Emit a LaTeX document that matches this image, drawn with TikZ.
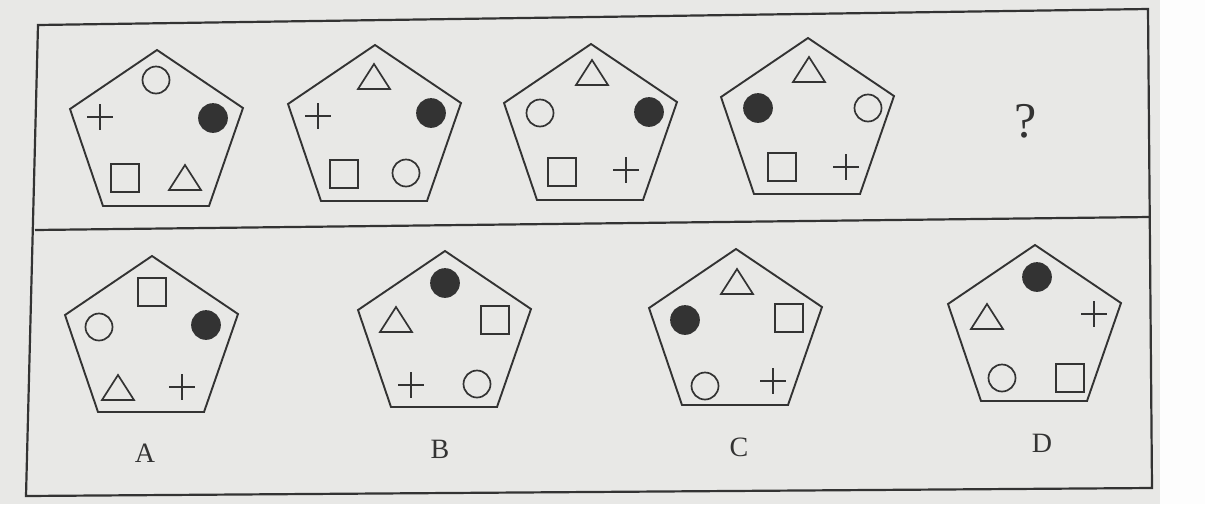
\documentclass[tikz,border=0pt]{standalone}
\usepackage{fontspec}
\setmainfont{Liberation Serif}
\definecolor{paper}{HTML}{E8E8E6}
\definecolor{ink}{HTML}{333333}

\begin{document}
\begin{tikzpicture}[x=1pt, y=-1pt,
    pentline/.style={ink, line width=1.9pt, line join=miter},
    symline/.style={ink, line width=1.7pt},
    dot/.style={fill=ink, draw=ink},
    lab/.style={ink, font=\fontsize{28}{30}\selectfont, inner sep=0pt},
    pent/.pic={\draw[pentline] (0,0) -- (86,58) -- (52,156) -- (-54,156) -- (-87,59) -- cycle;},
    tri/.pic={\draw[symline] (0,-13) -- (16,12) -- (-16,12) -- cycle;},
    sq/.pic={\draw[symline] (-14,-14) rectangle (14,14);},
    crs/.pic={\draw[symline] (-13,0) -- (13,0) (0,-13) -- (0,13);},
    ring/.pic={\draw[symline] (0,0) circle (13.5pt);},
    blob/.pic={\draw[symline, dot] (0,0) circle (14pt);}]

    % Papir
    \useasboundingbox (0,0) rectangle (1205,504);
    \fill[paper] (0,0) rectangle (1205,504);
    \fill[white!92!paper] (1160,0) rectangle (1205,504);

    % Ramecek (fotka je trochu natocena)
    \draw[ink, line width=2.2pt] (38,25) -- (1148,9) -- (1152,488) -- (26,496) -- cycle;
    \draw[ink, line width=2.2pt] (35,230) -- (1150,217);

    % Horni rada
    \pic at (157,50) {pent};
    \pic at (156,80) {ring};
    \pic at (100,117) {crs};
    \pic at (213,118) {blob};
    \pic at (125,178) {sq};
    \pic at (185,178) {tri};

    \pic at (375,45) {pent};
    \pic at (374,77) {tri};
    \pic at (318,116) {crs};
    \pic at (431,113) {blob};
    \pic at (344,174) {sq};
    \pic at (406,173) {ring};

    \pic at (591,44) {pent};
    \pic at (592,73) {tri};
    \pic at (540,113) {ring};
    \pic at (649,112) {blob};
    \pic at (562,172) {sq};
    \pic at (626,170) {crs};

    \pic at (808,38) {pent};
    \pic at (809,70) {tri};
    \pic at (758,108) {blob};
    \pic at (868,108) {ring};
    \pic at (782,167) {sq};
    \pic at (846,167) {crs};

    \node[lab, font=\fontsize{50}{52}\selectfont] (otaznik) at (1026,121) {?};

    % Moznosti A--D
    \pic at (152,256) {pent};
    \pic at (152,292) {sq};
    \pic at (99,327) {ring};
    \pic at (206,325) {blob};
    \pic at (118,388) {tri};
    \pic at (182,387) {crs};
    \node[lab] (optA) at (145,453) {A};

    \pic at (445,251) {pent};
    \pic at (445,283) {blob};
    \pic at (396,320) {tri};
    \pic at (495,320) {sq};
    \pic at (411,385) {crs};
    \pic at (477,384) {ring};
    \node[lab] (optB) at (440,449) {B};

    \pic at (736,249) {pent};
    \pic at (737,282) {tri};
    \pic at (685,320) {blob};
    \pic at (789,318) {sq};
    \pic at (705,386) {ring};
    \pic at (773,381) {crs};
    \node[lab] (optC) at (739,447) {C};

    \pic at (1035,245) {pent};
    \pic at (1037,277) {blob};
    \pic at (987,317) {tri};
    \pic at (1094,314) {crs};
    \pic at (1002,378) {ring};
    \pic at (1070,378) {sq};
    \node[lab] (optD) at (1042,443) {D};

\end{tikzpicture}
\end{document}
